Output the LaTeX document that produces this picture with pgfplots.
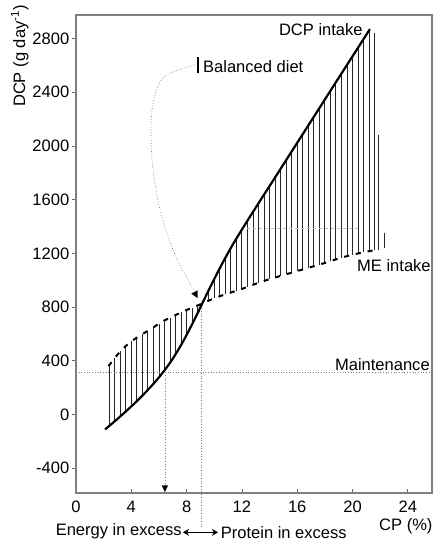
\documentclass[border=0pt]{standalone}
\usepackage{fontspec}
\setmainfont{Liberation Sans}
\usepackage{pgfplots}
\usepackage{pgfplotstable}
\pgfplotsset{compat=1.18}
\usetikzlibrary{arrows.meta}

\pgfplotstableread{
x y
2.1 -112
2.4 -86
2.8 -51
3.2 -15
3.6 22
4.0 60
4.4 99
4.8 140
5.2 183
5.6 228
6.0 276
6.4 328
6.8 385
7.2 448
7.6 517
8.0 592
8.4 672
8.8 755
9.2 841
9.6 926
10.0 1009
10.4 1089
10.8 1166
11.2 1240
11.6 1310
12.0 1377
12.4 1443
12.8 1508
13.6 1637
14.4 1765
15.2 1894
16.0 2023
16.8 2152
17.6 2281
18.4 2410
19.2 2539
20.0 2667
20.8 2796
21.26 2870
}\dcptable

\pgfplotstableread{
x y
2.35 360
2.8 420
3.2 470
3.6 510
4.0 545
4.4 572
4.8 598
5.2 623
5.6 648
6.0 677
6.4 700
6.8 720
7.2 740
7.6 760
8.0 778
8.4 795
8.8 812
9.2 828
9.6 848
10.0 865
10.4 880
10.8 895
11.2 908
11.6 922
12.0 935
13.0 973
14.0 1008
15.0 1038
16.0 1068
17.0 1098
18.0 1128
19.0 1162
20.0 1190
21.0 1212
21.6 1224
}\metable

\pgfplotstableread{
x lo hi
2.4 -86 365
2.8 -51 420
3.2 -15 470
3.6 22 510
4.0 60 545
4.4 99 572
4.8 140 598
5.2 183 623
5.6 228 648
6.0 276 677
6.4 328 700
6.8 385 720
7.2 448 740
7.6 517 760
8.0 592 778
8.4 672 795
8.8 755 812
9.2 828 841
9.6 848 926
10.0 865 1009
10.4 880 1089
10.8 895 1166
11.2 908 1240
11.6 922 1310
12.0 935 1377
12.4 950 1443
12.8 965 1508
13.2 980 1572
13.6 995 1637
14.0 1008 1701
14.4 1020 1765
14.8 1032 1830
15.2 1044 1894
15.6 1056 1959
16.0 1068 2023
16.4 1080 2088
16.8 1092 2152
17.2 1104 2217
17.6 1116 2281
18.0 1128 2345
18.4 1142 2410
18.8 1155 2474
19.2 1168 2539
19.6 1180 2603
20.0 1190 2667
20.4 1200 2732
20.8 1208 2796
21.2 1216 2861
21.6 1224 2840
21.9 1228 2083
22.3 1243 1354
}\hatchtable

\begin{document}
\fontsize{16.6}{19}\selectfont
\begin{tikzpicture}
\begin{axis}[
  scale only axis, width=356bp, height=478bp,
  xmin=0, xmax=25.75, ymin=-585, ymax=2975,
  xtick={0,4,...,24}, ytick={-400,0,...,2800},
  xtick pos=bottom, ytick pos=left,
  tick align=inside, major tick length=4bp,
  ytick style={xshift=-4bp},
  xticklabel style={yshift=-2bp},
  yticklabel style={xshift=-1bp},
  axis line style={gray, line width=1.1bp},
  tick style={gray!80!black, line width=0.8bp},
  /pgf/number format/assume math mode=true,
  /pgf/number format/1000 sep={},
  clip=false,
]
% hatch lines
\addplot[draw=none, mark=none,
  error bars/.cd, y dir=plus, y explicit, error mark=none,
  error bar style={draw=black!85, line width=0.9bp}]
  table[x=x, y=lo, y error expr=\thisrow{hi}-\thisrow{lo}] {\hatchtable};
% faint dashed line
\addplot[gray!50, dashed, line width=0.5bp] coordinates {(12.4,1390) (20.4,1390)};
% maintenance
\addplot[gray, dotted, line width=0.7bp] coordinates {(0,315) (25.75,315)};
% vertical dotted lines
\addplot[gray, dotted, line width=0.7bp] coordinates {(6.43,315) (6.43,-540)};
\addplot[gray, dotted, line width=0.7bp] coordinates {(9.05,830) (9.05,-845)};
% ME intake
\addplot[black, line width=2bp, dash pattern=on 5bp off 7bp] table[x=x,y=y] {\metable};
% DCP intake
\addplot[black, line width=2.2bp, smooth] table[x=x,y=y] {\dcptable};

% arrow head on vertical
\fill[black] (axis cs:6.43,-578) -- (axis cs:6.2,-528) -- (axis cs:6.66,-528) -- cycle;

% balanced diet curved arrow
\draw[gray, dotted, line width=0.7bp] plot[smooth] coordinates {(axis cs:8.6,2604) (axis cs:6.29,2507) (axis cs:5.5,2269) (axis cs:5.5,1897) (axis cs:6.07,1525) (axis cs:7.16,1190) (axis cs:8.5,930)};
\fill[black] (axis cs:8.80,866) -- (axis cs:8.79,924) -- (axis cs:8.34,900) -- cycle;
\draw[black, line width=1.6bp] (axis cs:8.82,2540) -- (axis cs:8.82,2660);

% texts
\node[anchor=east, inner sep=0] at (axis cs:20.75,2870) {DCP intake};
\node[anchor=west, inner sep=0] at (axis cs:9.18,2589) {Balanced diet};
\node[anchor=east, inner sep=0] at (axis cs:25.67,1111) {ME intake};
\node[anchor=east, inner sep=0] at (axis cs:25.6,370) {Maintenance};
\node[anchor=east, inner sep=0] at (axis cs:7.66,-872) {Energy in excess};
\node[anchor=west, inner sep=0] at (axis cs:10.46,-880) {Protein in excess};
\node[anchor=east, inner sep=0] at (axis cs:25.8,-831) {CP (\%)};
\draw[{Stealth[length=6bp,width=7bp]}-{Stealth[length=6bp,width=7bp]}, line width=1.4bp] (axis cs:7.74,-878) -- (axis cs:10.27,-878);
\node[rotate=90, anchor=base east, inner sep=0] at (axis description cs:-0.143,1.021) {DCP (g day\textsuperscript{-1})};
\end{axis}
\pgfresetboundingbox
\path ([shift={(-76bp,-51bp)}]current axis.south west) rectangle ([shift={(3bp,15bp)}]current axis.north east);
\end{tikzpicture}
\end{document}
